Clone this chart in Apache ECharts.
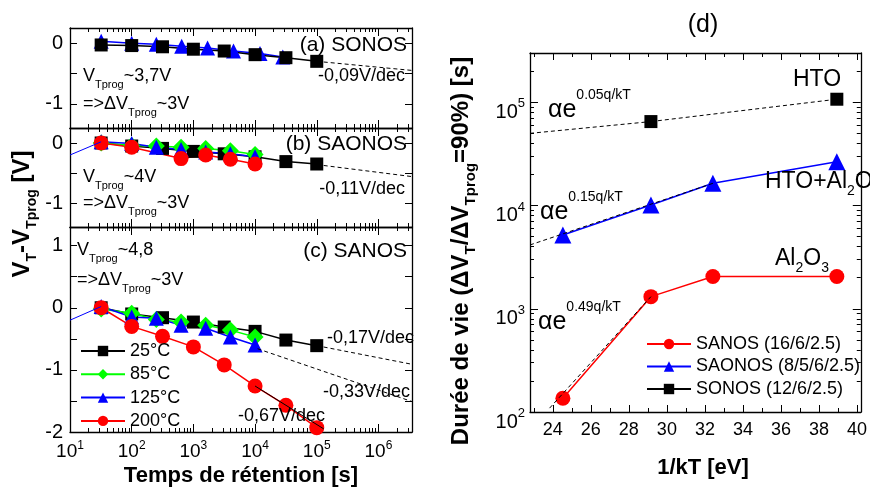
<!DOCTYPE html>
<html><head><meta charset="utf-8">
<script src="https://cdn.jsdelivr.net/npm/echarts@6/dist/echarts.min.js"></script>
<style>html,body{margin:0;padding:0;background:#fff}#c{width:870px;height:488px}</style>
</head><body><div id="c"></div>
<script>
// ---------------- data ----------------
// left panels: retention time [s]
const tHalfDec = [32, 100, 316, 1000, 3162, 10000, 31623, 100000];
const tA125 = [32, 100, 251, 646, 1698, 4467, 12023, 28184];
const tBC = [32, 100, 251, 631, 1585, 3981, 10000];
const tRedB = [32, 100, 631, 1585, 3981, 10000];
const tLead = [10];
// (a) SONOS
const vA25 = [-0.03, -0.04, -0.06, -0.10, -0.13, -0.19, -0.24, -0.30];
const vA125 = [0.03, 0.0, -0.02, -0.05, -0.08, -0.13, -0.17, -0.23];
// (b) SAONOS
const vB25 = [0.0, -0.05, -0.09, -0.14, -0.18, -0.23, -0.31, -0.35];
const vB85 = [0.0, -0.04, -0.05, -0.07, -0.09, -0.13, -0.19];
const vB125 = [0.02, -0.01, -0.07, -0.11, -0.15, -0.18, -0.23];
const vB200 = [0.0, -0.07, -0.26, -0.20, -0.27, -0.35];
const vBLead = [-0.2];
// (c) SANOS
const vC25 = [0.0, -0.10, -0.16, -0.23, -0.31, -0.38, -0.52, -0.61];
const vC85 = [-0.02, -0.09, -0.19, -0.23, -0.28, -0.36, -0.47];
const vC125 = [0.02, -0.15, -0.17, -0.28, -0.33, -0.47, -0.60];
const vC200 = [0.0, -0.30, -0.46, -0.63, -0.92, -1.26, -1.57, -1.93];
const vCLead = [-0.2];
// extrapolation / fit lines
const fitA_t = [1e5, 3.5e6], fitA_v = [-0.30, -0.45];
const fitB_t = [1e5, 3.5e6], fitB_v = [-0.36, -0.56];
const fitC25_t = [1e5, 3.5e6], fitC25_v = [-0.61, -0.91];
const fitC125_t = [11000, 3.5e6], fitC125_v = [-0.66, -1.51];
const fitC200_t = [10000, 130000], fitC200_v = [-1.26, -1.95];
// right panel (d)
const invKT = [24.53, 29.16, 32.42, 38.94];
const invKTsonos = [29.16, 38.94];
const lifeSANOS = [136, 1310, 2050, 2050];
const lifeSAONOS = [5190, 10100, 16400, 26600];
const lifeSONOS = [65000, 107000];
const fitSONOS_x = [22.8, 29.16], fitSONOS_y = [50000, 65000];
const fitSAONOS_x = [22.8, 32.42], fitSAONOS_y = [4150, 16400];
const fitSANOS_x = [23.83, 29.16], fitSANOS_y = [109, 1310];
// names & tick labels
const tempNames = ['25°C', '85°C', '125°C', '200°C'];
const devNames = ['SANOS (16/6/2.5)', 'SAONOS (8/5/6/2.5)', 'SONOS (12/6/2.5)'];
const xDecades = [10, 100, 1000, 1e4, 1e5, 1e6];
const yDecades = [100, 1000, 1e4, 1e5];
const invKTMajor = [24, 26, 28, 30, 32, 34, 36, 38, 40];
const invKTMinor = [23, 25, 27, 29, 31, 33, 35, 37, 39];
const yTicks = [[-1, -0.5, 0], [-1, -0.5, 0], [-2, -1.5, -1, -0.5, 0, 0.5, 1]];
const yLabs = [[-1, 0], [-1, 0], [-2, -1, 0, 1]];
const yRanges = [[-1.4, 0.25], [-1.4, 0.25], [-2, 1.3]];

// ---------------- helpers ----------------
const FONT = "'Liberation Sans', Arial, sans-serif";
const BLK = '#000', GRN = '#00ff00', BLU = '#0000ff', RED = '#ff0000';
const XMAX = 3.5e6;
const minorT = [];
xDecades.forEach(d => { for (let k = 2; k <= 9; k++) if (d * k < XMAX) minorT.push(d * k); });
const minorY = [];
yDecades.forEach(d => { for (let k = 2; k <= 9; k++) if (d * k < 3e5) minorY.push(d * k); });

const grids = [
  {left: 70, top: 28, width: 342, height: 100},
  {left: 70, top: 128, width: 342, height: 99},
  {left: 70, top: 227, width: 342, height: 205},
  {left: 530, top: 53, width: 338, height: 359}
];
const axLine = {show: true, onZero: false, lineStyle: {color: BLK, width: 1.3}};
const noLine = {show: false, onZero: false};
// superscript rich styles for axis labels (main bottom-aligned, exponent top-aligned)
const supRich = (big, small, shift) => ({
  b: {fontSize: big, lineHeight: shift + (big + small) / 2, verticalAlign: 'bottom', fontFamily: FONT, color: BLK},
  s: {fontSize: small, lineHeight: small, verticalAlign: 'top', fontFamily: FONT, color: BLK}
});
const expFmt = v => '{b|10}{s|' + Math.round(Math.log10(v)) + '}';

const xAxes = [], yAxes = [];
for (let g = 0; g < 3; g++) {
  ['bottom', 'top'].forEach(pos => {
    xAxes.push({type: 'log', logBase: 10, gridIndex: g, position: pos, min: 10, max: XMAX,
      axisLine: axLine, splitLine: {show: false},
      axisTick: {show: true, inside: true, length: 8, customValues: xDecades, lineStyle: {color: BLK, width: 1}},
      axisLabel: {show: g === 2 && pos === 'bottom', customValues: xDecades, margin: 8, formatter: expFmt, rich: supRich(19, 12, 5.5)}});
    xAxes.push({type: 'log', logBase: 10, gridIndex: g, position: pos, min: 10, max: XMAX,
      axisLine: noLine, splitLine: {show: false},
      axisTick: {show: true, inside: true, length: 4, customValues: minorT, lineStyle: {color: BLK, width: 1}},
      axisLabel: {show: false}});
  });
  ['left', 'right'].forEach(pos => {
    yAxes.push({type: 'value', gridIndex: g, position: pos, min: yRanges[g][0], max: yRanges[g][1],
      axisLine: axLine, splitLine: {show: false},
      axisTick: {show: true, inside: true, length: 7, customValues: yTicks[g], lineStyle: {color: BLK, width: 1}},
      axisLabel: {show: pos === 'left', customValues: yLabs[g], margin: 7, fontSize: 20, color: BLK, fontFamily: FONT,
        formatter: v => String(v)}});
  });
}
// right panel axes: x index 12.., y index 6..
['bottom', 'top'].forEach(pos => {
  xAxes.push({type: 'value', gridIndex: 3, position: pos, min: 22.8, max: 40.2,
    axisLine: axLine, splitLine: {show: false},
    axisTick: {show: true, inside: true, length: 7, customValues: invKTMajor, lineStyle: {color: BLK, width: 1}},
    axisLabel: {show: pos === 'bottom', customValues: invKTMajor, margin: 9, fontSize: 18, color: BLK, fontFamily: FONT}});
  xAxes.push({type: 'value', gridIndex: 3, position: pos, min: 22.8, max: 40.2,
    axisLine: noLine, splitLine: {show: false},
    axisTick: {show: true, inside: true, length: 4, customValues: invKTMinor, lineStyle: {color: BLK, width: 1}},
    axisLabel: {show: false}});
});
['left', 'right'].forEach(pos => {
  yAxes.push({type: 'log', logBase: 10, gridIndex: 3, position: pos, min: 100, max: 3e5,
    axisLine: axLine, splitLine: {show: false},
    axisTick: {show: true, inside: true, length: 8, customValues: yDecades, lineStyle: {color: BLK, width: 1}},
    axisLabel: {show: pos === 'left', customValues: yDecades, margin: 5, verticalAlign: 'top', padding: [-5, 0, 0, 0],
      formatter: expFmt, rich: supRich(20, 13, 8.5)}});
  yAxes.push({type: 'log', logBase: 10, gridIndex: 3, position: pos, min: 100, max: 3e5,
    axisLine: noLine, splitLine: {show: false},
    axisTick: {show: true, inside: true, length: 4, customValues: minorY, lineStyle: {color: BLK, width: 1}},
    axisLabel: {show: false}});
});

function ser(name, xi, yi, xs, ys, color, symbol, size) {
  return {type: 'line', name, xAxisIndex: xi, yAxisIndex: yi,
    data: xs.map((x, i) => [x, ys[i]]), symbol, symbolSize: size, showAllSymbol: true,
    itemStyle: {color, borderWidth: 0}, lineStyle: {color, width: 1.5}, animation: false};
}
function fit(xi, yi, xs, ys, color, dash) {
  return {type: 'line', xAxisIndex: xi, yAxisIndex: yi, data: xs.map((x, i) => [x, ys[i]]),
    symbol: 'none', silent: true, lineStyle: {color, width: 1, type: dash ? [4, 3] : 'solid'}, animation: false, z: 4};
}
const series = [
  // (a)
  ser('125°C', 0, 0, tA125, vA125, BLU, 'triangle', 15),
  ser('25°C', 0, 0, tHalfDec, vA25, BLK, 'rect', 13),
  fit(0, 0, fitA_t, fitA_v, BLK, true),
  // (b)
  ser('25°C', 4, 2, tHalfDec, vB25, BLK, 'rect', 13),
  ser('85°C', 4, 2, tBC, vB85, GRN, 'diamond', 17),
  fit(4, 2, [tLead[0], tBC[0]], [vBLead[0], vB125[0]], BLU, false),
  ser('125°C', 4, 2, tBC, vB125, BLU, 'triangle', 15),
  ser('200°C', 4, 2, tRedB, vB200, RED, 'circle', 15),
  fit(4, 2, fitB_t, fitB_v, BLK, true),
  // (c)
  ser('25°C', 8, 4, tHalfDec, vC25, BLK, 'rect', 13),
  ser('85°C', 8, 4, tBC, vC85, GRN, 'diamond', 17),
  fit(8, 4, [tLead[0], tBC[0]], [vCLead[0], vC125[0]], BLU, false),
  ser('125°C', 8, 4, tBC, vC125, BLU, 'triangle', 15),
  ser('200°C', 8, 4, tHalfDec, vC200, RED, 'circle', 15),
  fit(8, 4, fitC25_t, fitC25_v, BLK, true),
  fit(8, 4, fitC125_t, fitC125_v, BLK, true),
  fit(8, 4, fitC200_t, fitC200_v, BLK, false),
  // (d)
  Object.assign(ser(devNames[2], 12, 6, invKTsonos, lifeSONOS, BLK, 'rect', 13), {lineStyle: {color: BLK, width: 1, type: [4, 3]}}),
  ser(devNames[1], 12, 6, invKT, lifeSAONOS, BLU, 'triangle', 17),
  ser(devNames[0], 12, 6, invKT, lifeSANOS, RED, 'circle', 15),
  fit(12, 6, fitSONOS_x, fitSONOS_y, BLK, true),
  fit(12, 6, fitSAONOS_x, fitSAONOS_y, BLK, true),
  fit(12, 6, fitSANOS_x, fitSANOS_y, BLK, true)
];

// ---------------- texts ----------------
// m: main (top aligned), d: subscript (bottom aligned), M: main (bottom aligned), u: superscript (top aligned)
function richStyles(main, small, shift, bold) {
  const w = bold ? 'bold' : 'normal';
  const H = shift + (main + small) / 2;
  return {
    m: {fontSize: main, lineHeight: main, verticalAlign: 'top', fontFamily: FONT, fontWeight: w, color: BLK},
    d: {fontSize: small, lineHeight: H, verticalAlign: 'bottom', fontFamily: FONT, fontWeight: w, color: BLK},
    M: {fontSize: main, lineHeight: H, verticalAlign: 'bottom', fontFamily: FONT, fontWeight: w, color: BLK},
    u: {fontSize: small, lineHeight: small, verticalAlign: 'top', fontFamily: FONT, fontWeight: w, color: BLK}
  };
}
// subscript text; y = centre of the main text
function subText(x, y, text, main, small, shift, align) {
  return {type: 'text', x, y: y - main / 2, z: 50,
    style: {text, rich: richStyles(main, small, shift, false), align: align || 'left', verticalAlign: 'top',
      textAlign: align || 'left', textVerticalAlign: 'top', fill: BLK, font: main + 'px ' + FONT}};
}
// superscript text; y = centre of main text
function supText(x, y, text, main, small, shift, align) {
  return {type: 'text', x, y: y - (small / 2 + shift), z: 50,
    style: {text, rich: richStyles(main, small, shift, false), align: align || 'left', verticalAlign: 'top',
      textAlign: align || 'left', textVerticalAlign: 'top', fill: BLK, font: main + 'px ' + FONT}};
}
function plain(x, y, text, size, align, bold) {
  return {type: 'text', x, y, z: 50,
    style: {text, align: align || 'left', verticalAlign: 'middle', textAlign: align || 'left', textVerticalAlign: 'middle',
      fill: BLK, font: (bold ? 'bold ' : '') + size + 'px ' + FONT}};
}
// rotated (bottom-to-top) title with subscripts; cx = x of main text centre
function rotTitle(cx, cy, text, main, small, shift) {
  const H = shift + (main + small) / 2;
  return {type: 'text', x: cx + (H - main) / 2, y: cy, rotation: Math.PI / 2, z: 50,
    style: {text, rich: richStyles(main, small, shift, true), align: 'center', verticalAlign: 'middle',
      textAlign: 'center', textVerticalAlign: 'middle', fill: BLK, font: 'bold ' + main + 'px ' + FONT}};
}

const graphics = [
  // (a)
  plain(407, 45, '(a) SONOS', 21, 'right'),
  subText(83, 76, '{m|V}{d|Tprog}{m|~3,7V}', 18, 11, 9),
  subText(83, 104, '{m|=>ΔV}{d|Tprog}{m|~3V}', 18, 11, 9),
  plain(405, 76, '-0,09V/dec', 18, 'right'),
  // (b)
  plain(407, 144, '(b) SAONOS', 21, 'right'),
  subText(83, 177, '{m|V}{d|Tprog}{m|~4V}', 18, 11, 9),
  subText(83, 203, '{m|=>ΔV}{d|Tprog}{m|~3V}', 18, 11, 9),
  plain(405, 189, '-0,11V/dec', 18, 'right'),
  // (c)
  plain(407, 251, '(c) SANOS', 21, 'right'),
  subText(77, 250, '{m|V}{d|Tprog}{m|~4,8}', 18, 11, 9),
  subText(77, 280, '{m|=>ΔV}{d|Tprog}{m|~3V}', 18, 11, 9),
  plain(414, 338, '-0,17V/dec', 18, 'right'),
  plain(410, 392, '-0,33V/dec', 18, 'right'),
  plain(238, 416, '-0,67V/dec', 18, 'left'),
  // left axis titles
  plain(241, 476, 'Temps de rétention [s]', 22, 'center', true),
  rotTitle(22, 214, '{m|V}{d|T}{m|-V}{d|Tprog}{m| [V]}', 24, 14, 10),
  // (d)
  plain(703, 25, '(d)', 25, 'center'),
  plain(793, 80, 'HTO', 23, 'left'),
  subText(765, 182, '{m|HTO+Al}{d|2}{m|O}{d|3}', 23, 14, 9),
  subText(775, 259, '{m|Al}{d|2}{m|O}{d|3}', 23, 14, 9),
  supText(548, 110, '{M|αe}{u|0.05q/kT}', 25, 14, 15),
  supText(540, 212, '{M|αe}{u|0.15q/kT}', 25, 14, 15),
  supText(538, 322, '{M|αe}{u|0.49q/kT}', 25, 14, 15),
  plain(703, 468, '1/kT [eV]', 22, 'center', true),
  rotTitle(461, 251, '{m|Durée de vie (ΔV}{d|T}{m|/ΔV}{d|Tprog}{m|=90%) [s]}', 24, 15, 10)
];

const legendText = {fontSize: 18, color: BLK, fontFamily: FONT};
const option = {
  animation: false,
  backgroundColor: '#fff',
  grid: grids,
  xAxis: xAxes,
  yAxis: yAxes,
  legend: [
    {left: 75, top: 337, orient: 'vertical', itemWidth: 44, itemHeight: 13, itemGap: 5.3, selectedMode: false,
      data: tempNames, textStyle: legendText},
    {left: 641, top: 330, orient: 'vertical', itemWidth: 44, itemHeight: 13, itemGap: 4.5, selectedMode: false,
      data: devNames, textStyle: legendText, lineStyle: {type: 'solid'}}
  ],
  series,
  graphic: graphics
};
const chart = echarts.init(document.getElementById('c'), null, {renderer: 'canvas'});
chart.setOption(option);
</script></body></html>
